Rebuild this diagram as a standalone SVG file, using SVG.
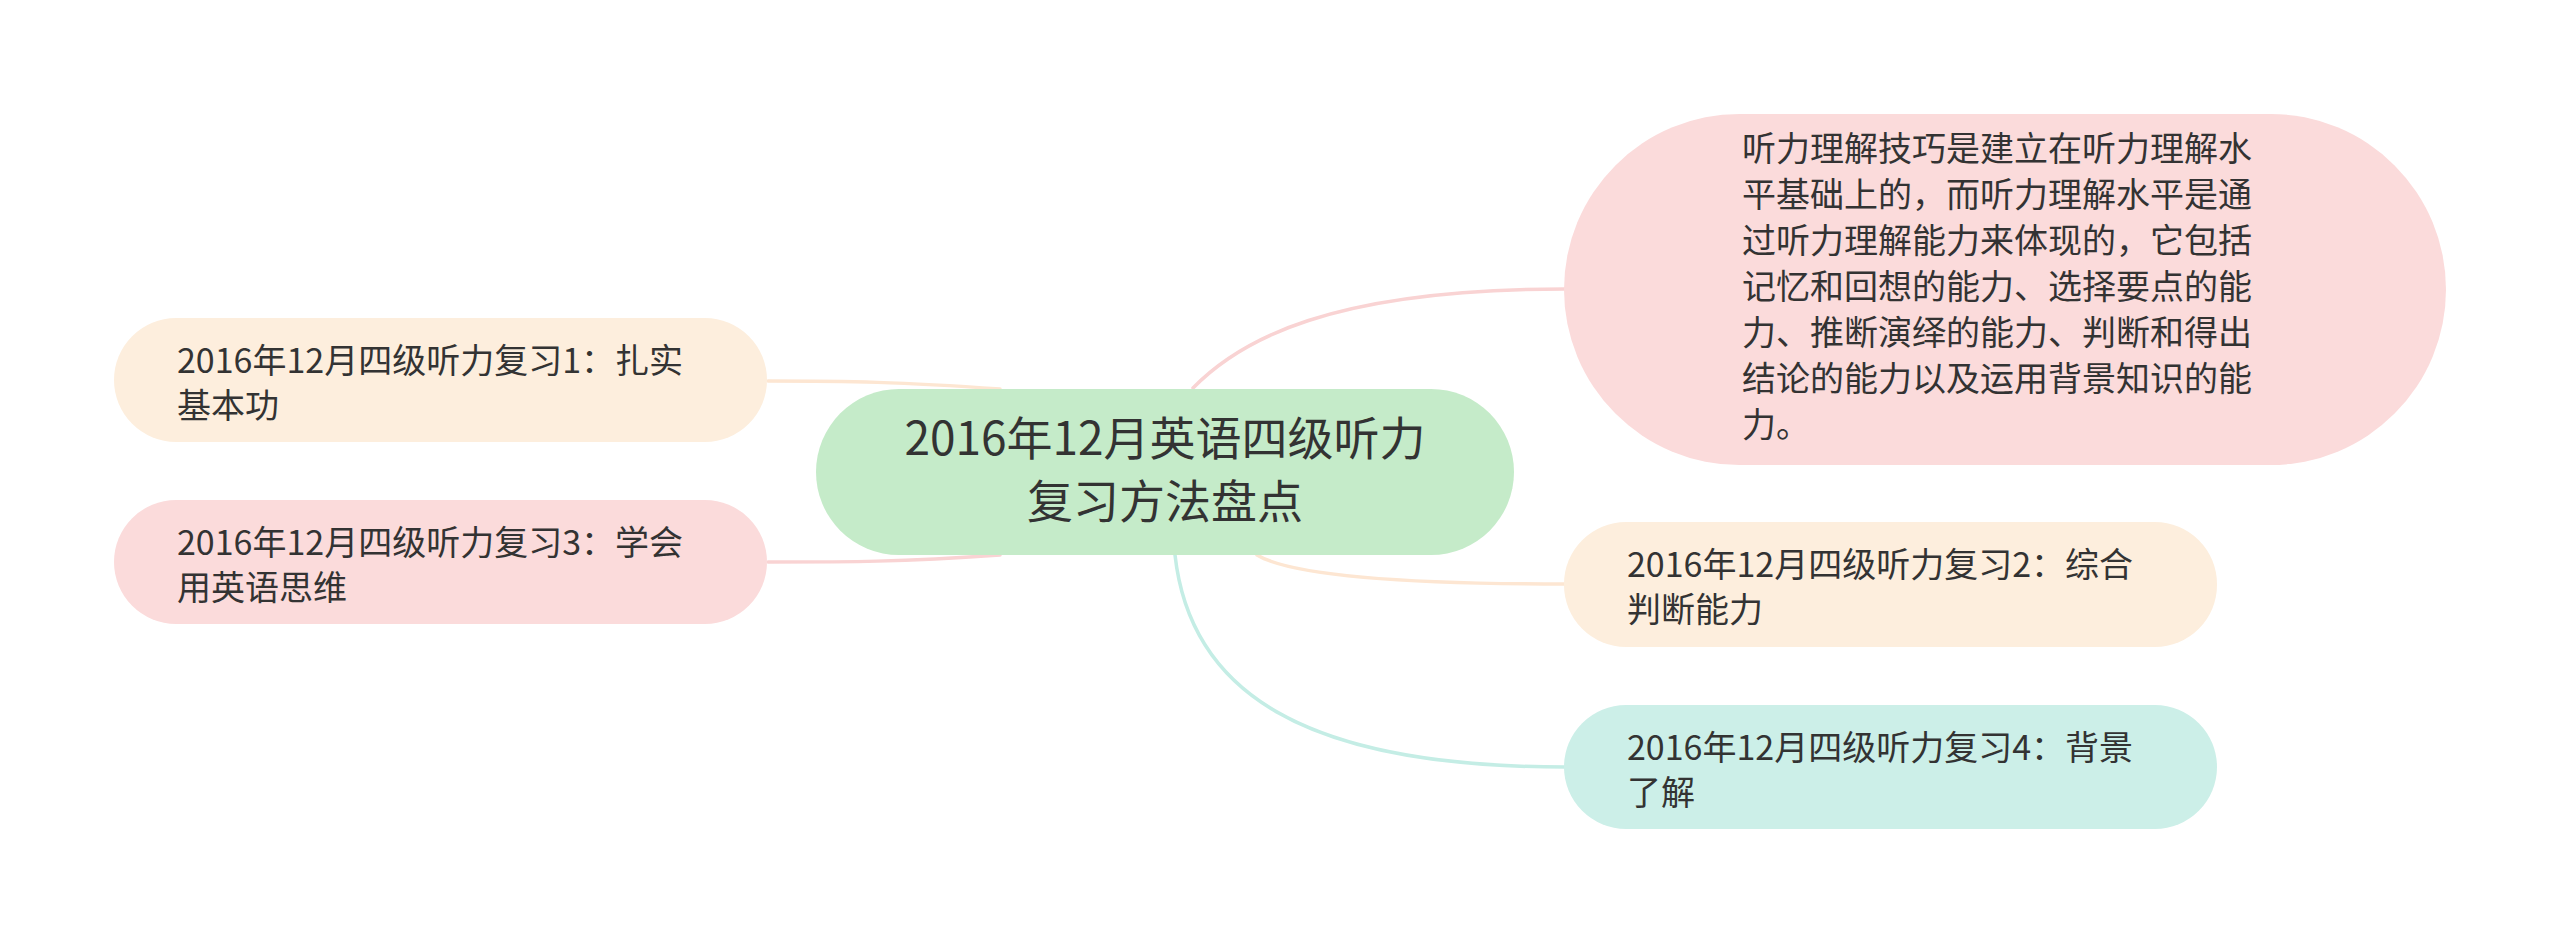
<svg xmlns="http://www.w3.org/2000/svg" width="2560" height="943" viewBox="0 0 2560 943">
<style>
.t{font-family:"Noto Sans CJK SC","Noto Sans",sans-serif;fill:#333333;font-size:34px}
.c{font-size:46px;text-anchor:middle}
.ln{fill:none;stroke-width:3.5;stroke-linecap:round}
</style>
<rect width="2560" height="943" fill="#ffffff"/>
<g id="connectors">
<path class="ln" stroke="#f9d3d3" d="M1193 388 C1240 340 1330 289 1565 289"/>
<path class="ln" stroke="#fde6d2" d="M1000 389 C900 382 850 381 768 381"/>
<path class="ln" stroke="#f9d3d3" d="M1000 555 C900 562 850 562 768 562"/>
<path class="ln" stroke="#fde6d2" d="M1257 555 C1290 575 1400 584 1565 584"/>
<path class="ln" stroke="#c4ede5" d="M1175 555 C1190 690 1300 767 1565 767"/>
</g>
<g id="center">
<rect x="816" y="389" width="698" height="166" rx="83" fill="#c5ebc9"/>
<text class="t c"><tspan x="1165" y="455">2016年12月英语四级听力</tspan><tspan x="1165" y="518">复习方法盘点</tspan></text>
</g>
<g id="n-skill">
<rect x="1564" y="114" width="882" height="351" rx="175.5" fill="#fbdbdb"/>
<text class="t"><tspan x="1742" y="161">听力理解技巧是建立在听力理解水</tspan><tspan x="1742" y="207">平基础上的，而听力理解水平是通</tspan><tspan x="1742" y="253">过听力理解能力来体现的，它包括</tspan><tspan x="1742" y="299">记忆和回想的能力、选择要点的能</tspan><tspan x="1742" y="345">力、推断演绎的能力、判断和得出</tspan><tspan x="1742" y="391">结论的能力以及运用背景知识的能</tspan><tspan x="1742" y="437">力。</tspan></text>
</g>
<g id="n1">
<rect x="114" y="318" width="653" height="124" rx="62" fill="#fdeedd"/>
<text class="t"><tspan x="177" y="373">2016年12月四级听力复习1：扎实</tspan><tspan x="177" y="418">基本功</tspan></text>
</g>
<g id="n3">
<rect x="114" y="500" width="653" height="124" rx="62" fill="#fbdbdb"/>
<text class="t"><tspan x="177" y="555">2016年12月四级听力复习3：学会</tspan><tspan x="177" y="600">用英语思维</tspan></text>
</g>
<g id="n2">
<rect x="1564" y="522" width="653" height="125" rx="62" fill="#fdeedd"/>
<text class="t"><tspan x="1627" y="577">2016年12月四级听力复习2：综合</tspan><tspan x="1627" y="622">判断能力</tspan></text>
</g>
<g id="n4">
<rect x="1564" y="705" width="653" height="124" rx="62" fill="#ccefe8"/>
<text class="t"><tspan x="1627" y="760">2016年12月四级听力复习4：背景</tspan><tspan x="1627" y="805">了解</tspan></text>
</g>
</svg>
